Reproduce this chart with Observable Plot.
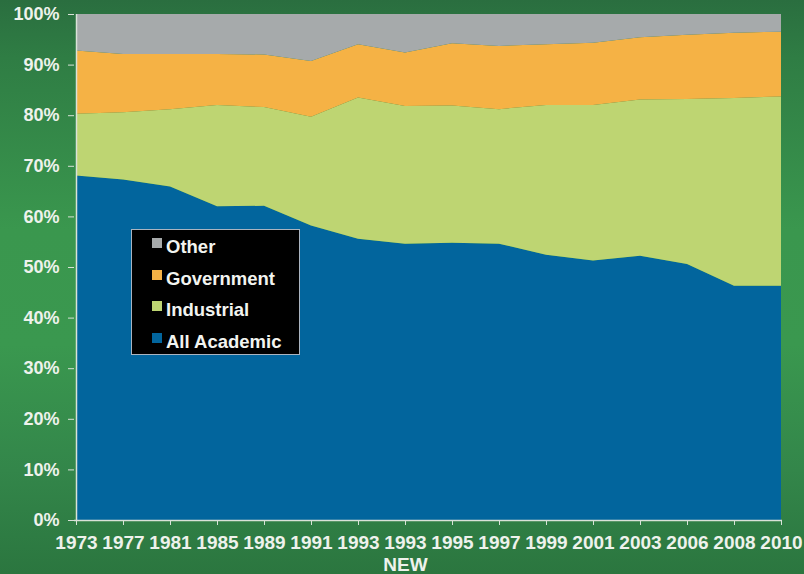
<!DOCTYPE html>
<html>
<head>
<meta charset="utf-8">
<script src="https://cdn.jsdelivr.net/npm/d3@7"></script>
<script src="https://cdn.jsdelivr.net/npm/@observablehq/plot@0.6"></script>
<style>
  html, body { margin: 0; padding: 0; }
  #wrap {
    position: relative; width: 804px; height: 574px; overflow: hidden;
    background:
      linear-gradient(180deg, #2a6e3f 0%, #2f7d44 10%, #3a974e 40%, #3a984f 60%, #33864a 82%, #2b763f 100%);
    font-family: "Liberation Sans", Arial, sans-serif;
  }
  #legend {
    position: absolute; left: 131px; top: 229px; width: 167px; height: 124px;
    background: #000; border: 1px solid #aab4c0;
  }
  .row { position: absolute; left: 20px; color: #f2f4f0; font-weight: bold; font-size: 18.5px; line-height: 20px; white-space: nowrap; }
  .sw { display: inline-block; width: 10px; height: 10px; margin-right: 4px; vertical-align: 5px; }
</style>
</head>
<body>
<div id="wrap"><div id="chart"></div><div id="legend"></div></div>
<script>
// Categories (x axis)
const years = ["1973","1977","1981","1985","1989","1991","1993","1993 NEW","1995","1997","1999","2001","2003","2006","2008","2010"];
const yearLabels = ["1973","1977","1981","1985","1989","1991","1993","1993\nNEW","1995","1997","1999","2001","2003","2006","2008","2010"];

// Series shares (%)
const academic   = [68.1, 67.3, 65.9, 62.0, 62.1, 58.2, 55.6, 54.6, 54.8, 54.6, 52.4, 51.3, 52.2, 50.6, 46.3, 46.3];
const industrial = [12.2, 13.3, 15.3, 20.0, 19.5, 21.5, 27.9, 27.2, 27.1, 26.6, 29.6, 30.7, 30.9, 32.6, 37.1, 37.4];
const government = [12.5, 11.5, 10.9, 10.1, 10.4, 11.0, 10.5, 10.6, 12.3, 12.5, 12.0, 12.3, 12.3, 12.7, 12.9, 12.8];
const other      = [ 7.2,  7.9,  7.9,  7.9,  8.0,  9.3,  6.0,  7.6,  5.8,  6.3,  6.0,  5.7,  4.6,  4.1,  3.7,  3.5];

const seriesNames = ["All Academic", "Industrial", "Government", "Other"];
const seriesColors = ["#02659d", "#bed572", "#f5b245", "#a6aaab"];
const yTicks = [0, 10, 20, 30, 40, 50, 60, 70, 80, 90, 100];

const seriesValues = [academic, industrial, government, other];
const data = [];
seriesNames.forEach((name, s) => {
  years.forEach((yr, i) => data.push({ year: yr, type: name, value: seriesValues[s][i] }));
});
const labelOf = Object.fromEntries(years.map((y, i) => [y, yearLabels[i]]));

const axisColor = "#d9e2d8";
const chart = Plot.plot({
  width: 804,
  height: 574,
  marginLeft: 74,
  marginRight: 22,
  marginTop: 14,
  marginBottom: 54,
  style: { background: "transparent", color: "#eef2ec", fontFamily: "'Liberation Sans', Arial, sans-serif", fontWeight: "bold" },
  x: { type: "point", domain: years, padding: 0, label: null },
  y: { domain: [0, 100], label: null },
  color: { domain: seriesNames, range: seriesColors },
  marks: [
    Plot.areaY(data, { x: "year", y: "value", z: "type", fill: "type", order: seriesNames }),
    Plot.ruleY([0], { stroke: axisColor, strokeWidth: 1.5 }),
    Plot.ruleX([years[0]], { stroke: axisColor, strokeWidth: 1.5 }),
    Plot.axisY({ ticks: yTicks, tickFormat: d => d + "%", tickSize: 6, tickPadding: 9, fontSize: 18, stroke: axisColor, label: null }),
    Plot.axisX({ tickFormat: d => labelOf[d], tickSize: 5, tickPadding: 8, fontSize: 19, lineHeight: 1.15, stroke: axisColor, label: null })
  ]
});
document.getElementById("chart").appendChild(chart);

// Legend (top to bottom: Other, Government, Industrial, All Academic)
const legend = document.getElementById("legend");
const legendOrder = [3, 2, 1, 0];
legendOrder.forEach((s, k) => {
  const row = document.createElement("div");
  row.className = "row";
  row.style.top = (7 + k * 31.5) + "px";
  row.innerHTML = `<span class="sw" style="background:${seriesColors[s]}"></span>${seriesNames[s]}`;
  legend.appendChild(row);
});
</script>
</body>
</html>
